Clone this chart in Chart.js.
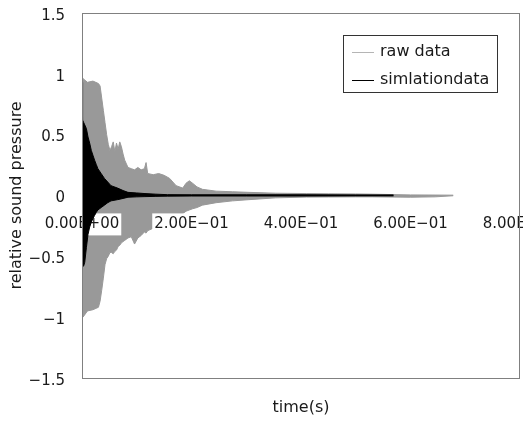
<!DOCTYPE html>
<html>
<head>
<meta charset="utf-8">
<script src="https://cdn.jsdelivr.net/npm/chart.js@4.4.1/dist/chart.umd.min.js"></script>
<style>
  html, body { margin: 0; padding: 0; background: #fff; }
  #wrap { width: 523px; height: 423px; }
</style>
</head>
<body>
<div id="wrap"><canvas id="chart" width="523" height="423"></canvas></div>
<script>
// measured envelope of the raw recording (time in s, relative pressure)
const rawTime = [0, 0.002, 0.01, 0.02, 0.03, 0.033, 0.036, 0.039, 0.042, 0.045,
  0.048, 0.051, 0.054, 0.057, 0.06, 0.063, 0.066, 0.069, 0.072, 0.075,
  0.078, 0.084, 0.09, 0.096, 0.102, 0.108, 0.114, 0.117, 0.12, 0.13,
  0.14, 0.15, 0.16, 0.172, 0.184, 0.19, 0.196, 0.202, 0.21, 0.22,
  0.245, 0.275, 0.305, 0.354, 0.41, 0.45, 0.5, 0.53, 0.6, 0.645, 0.678];
const rawUpper = [0.95, 0.96, 0.93, 0.94, 0.92, 0.90, 0.80, 0.70, 0.60, 0.50,
  0.42, 0.37, 0.40, 0.44, 0.36, 0.43, 0.38, 0.44, 0.40, 0.34,
  0.29, 0.23, 0.22, 0.21, 0.23, 0.21, 0.22, 0.27, 0.18, 0.17,
  0.18, 0.165, 0.14, 0.08, 0.06, 0.10, 0.12, 0.10, 0.07, 0.05,
  0.035, 0.03, 0.025, 0.018, 0.015, 0.013, 0.012, 0.01, 0.004, 0.003, 0.002];
const rawLower = [-1.0, -1.0, -0.95, -0.94, -0.92, -0.87, -0.78, -0.68, -0.57, -0.52,
  -0.50, -0.47, -0.47, -0.48, -0.46, -0.45, -0.42, -0.41, -0.39, -0.38,
  -0.37, -0.35, -0.34, -0.40, -0.35, -0.33, -0.30, -0.31, -0.29, -0.27,
  -0.27, -0.26, -0.22, -0.18, -0.15, -0.13, -0.12, -0.11, -0.10, -0.08,
  -0.06, -0.045, -0.035, -0.02, -0.014, -0.013, -0.012, -0.012, -0.015, -0.012, -0.003];

// simulated decay envelope
const simTime = [0, 0.001, 0.003, 0.005, 0.008, 0.011, 0.014, 0.017, 0.02, 0.023,
  0.026, 0.029, 0.035, 0.041, 0.047, 0.053, 0.065, 0.075, 0.084, 0.1,
  0.115, 0.135, 0.156, 0.2, 0.3, 0.4, 0.5, 0.569];
const simUpper = [0.93, 0.62, 0.60, 0.58, 0.55, 0.48, 0.43, 0.37, 0.33, 0.29,
  0.255, 0.22, 0.18, 0.14, 0.11, 0.08, 0.06, 0.04, 0.025, 0.02,
  0.015, 0.01, 0.006, 0.005, 0.005, 0.005, 0.004, 0.004];
const simLower = [-0.59, -0.59, -0.58, -0.55, -0.43, -0.32, -0.26, -0.22, -0.19, -0.165,
  -0.14, -0.12, -0.1, -0.08, -0.06, -0.045, -0.035, -0.025, -0.015, -0.012,
  -0.01, -0.008, -0.006, -0.005, -0.005, -0.005, -0.004, -0.004];

const xTicks = [0, 0.2, 0.4, 0.6, 0.8];
const xTickLabels = ['0.00E+00', '2.00E\u221201', '4.00E\u221201', '6.00E\u221201', '8.00E\u221201'];
const yTicks = [-1.5, -1, -0.5, 0, 0.5, 1, 1.5];
const yTickLabels = ['\u22121.5', '\u22121', '\u22120.5', '0', '0.5', '1', '1.5'];

const legendNames = ['raw data', 'simlationdata'];

const RAW_COLOR = '#999999';
const SIM_COLOR = '#000000';
const TEXT = '#1a1a1a';
const FONT = 'DejaVu Sans';

const pts = (xs, ys) => xs.map((x, i) => ({ x: x, y: ys[i] }));

// gray box round the plot area
const plotBorder = {
  id: 'plotBorder',
  afterDraw(chart) {
    const { ctx, chartArea: a } = chart;
    ctx.save();
    ctx.strokeStyle = '#808080';
    ctx.lineWidth = 1;
    ctx.strokeRect(Math.round(a.left) + 0.5, Math.round(a.top) + 0.5,
      Math.round(a.right - a.left) - 1, Math.round(a.bottom - a.top));
    ctx.restore();
  }
};

// x labels sit over the raw data but under the simulation (like the excel export)
const labelsOverRaw = {
  id: 'labelsOverRaw',
  afterDatasetDraw(chart, args) {
    if (args.index === 2 && typeof chart.scales.x.drawLabels === 'function') {
      chart.scales.x.drawLabels(chart.chartArea);
    }
  }
};

// boxed legend inside the plot, top right
const boxLegend = {
  id: 'boxLegend',
  afterDraw(chart) {
    const { ctx, chartArea: a } = chart;
    const left = Math.round(a.right) - 177, top = Math.round(a.top) + 22, w = 154, h = 57;
    ctx.save();
    ctx.fillStyle = '#fff';
    ctx.fillRect(left, top, w, h);
    ctx.strokeStyle = '#333';
    ctx.lineWidth = 1;
    ctx.strokeRect(left + 0.5, top + 0.5, w, h);
    const colors = ['#b5b5b5', SIM_COLOR];
    legendNames.forEach((name, i) => {
      const y = top + 17 + i * 28;
      ctx.strokeStyle = colors[i];
      ctx.beginPath();
      ctx.moveTo(left + 9, y + 0.5);
      ctx.lineTo(left + 31, y + 0.5);
      ctx.stroke();
      ctx.fillStyle = TEXT;
      ctx.font = '16px "' + FONT + '"';
      ctx.textBaseline = 'middle';
      ctx.fillText(name, left + 37, y);
    });
    ctx.restore();
  }
};

const ctx = document.getElementById('chart').getContext('2d');
new Chart(ctx, {
  type: 'scatter',
  data: {
    datasets: [
      { label: legendNames[1], data: pts(simTime, simUpper), fill: '+1',
        borderColor: SIM_COLOR, backgroundColor: SIM_COLOR },
      { label: '', data: pts(simTime, simLower), fill: false,
        borderColor: SIM_COLOR, backgroundColor: SIM_COLOR },
      { label: legendNames[0], data: pts(rawTime, rawUpper), fill: '+1',
        borderColor: RAW_COLOR, backgroundColor: RAW_COLOR },
      { label: '', data: pts(rawTime, rawLower), fill: false,
        borderColor: RAW_COLOR, backgroundColor: RAW_COLOR }
    ]
  },
  options: {
    responsive: false,
    animation: false,
    events: [],
    showLine: true,
    elements: {
      point: { radius: 0 },
      line: { borderWidth: 1, tension: 0 }
    },
    layout: { padding: { top: 13, right: 3, left: 0, bottom: 0 } },
    plugins: {
      legend: { display: false },
      tooltip: { enabled: false },
      title: {
        display: true,
        position: 'bottom',
        fullSize: false,
        text: 'time(s)',
        color: TEXT,
        font: { family: FONT, size: 16, weight: 'normal' },
        padding: { top: 20, bottom: 6 }
      }
    },
    scales: {
      x: {
        type: 'linear',
        position: { y: 0 },
        min: 0,
        max: 0.8,
        grid: { display: false, drawTicks: false },
        border: { display: false },
        afterBuildTicks: s => { s.ticks = xTicks.map(v => ({ value: v })); },
        afterFit: s => { s.paddingLeft = 0; s.paddingRight = 0; },
        ticks: {
          autoSkip: false,
          maxRotation: 0,
          padding: 20,
          color: TEXT,
          font: { family: FONT, size: 15 },
          showLabelBackdrop: true,
          backdropColor: '#ffffff',
          backdropPadding: 2,
          callback: (v, i) => xTickLabels[i]
        }
      },
      y: {
        type: 'linear',
        position: 'left',
        min: -1.5,
        max: 1.5,
        grid: { display: false, drawTicks: false },
        border: { display: false },
        afterBuildTicks: s => { s.ticks = yTicks.map(v => ({ value: v })); },
        afterFit: s => { s.width = 82; s.paddingTop = 0; s.paddingBottom = 0; },
        ticks: {
          autoSkip: false,
          padding: 17,
          labelOffset: 3,
          color: TEXT,
          font: { family: FONT, size: 15 },
          callback: (v, i) => yTickLabels[i]
        },
        title: {
          display: true,
          text: 'relative sound pressure',
          color: TEXT,
          font: { family: FONT, size: 16 },
          padding: { top: 7, bottom: 0 }
        }
      }
    }
  },
  plugins: [labelsOverRaw, plotBorder, boxLegend]
});
</script>
</body>
</html>
